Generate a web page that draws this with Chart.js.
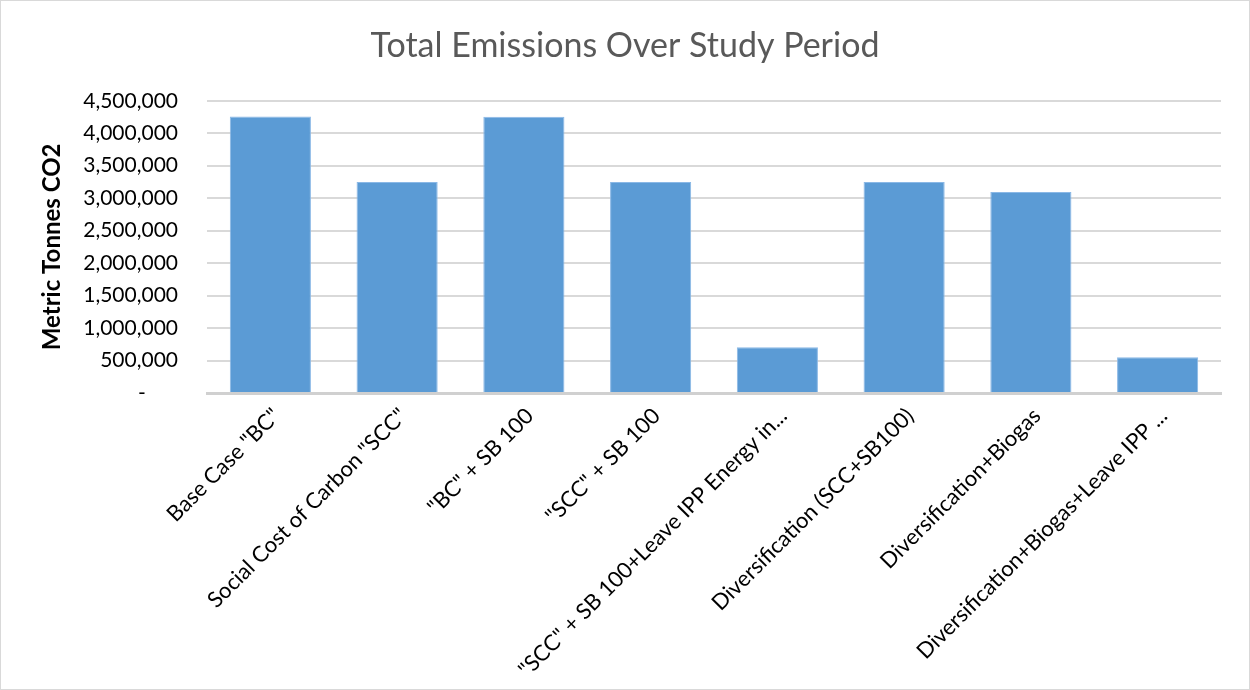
<!DOCTYPE html>
<html>
<head>
<meta charset="utf-8">
<script src="https://cdn.jsdelivr.net/npm/chart.js@4/dist/chart.umd.min.js"></script>
<style>
  html, body { margin: 0; padding: 0; background: #fff; }
  #wrap { width: 1250px; height: 690px; position: relative; }
</style>
</head>
<body>
<div id="wrap"><canvas id="c" width="1250" height="690"></canvas></div>
<script>
const categories = [
  'Base Case "BC"',
  'Social Cost of Carbon "SCC"',
  '"BC" + SB 100',
  '"SCC" + SB 100',
  '"SCC" + SB 100+Leave IPP Energy in...',
  'Diversification (SCC+SB100)',
  'Diversification+Biogas',
  'Diversification+Biogas+Leave IPP ...'
];
const emissions = [4260000, 3250000, 4255000, 3250000, 705000, 3250000, 3095000, 550000];
const yTicks = [0, 500000, 1000000, 1500000, 2000000, 2500000, 3000000, 3500000, 4000000, 4500000];

const FONT = 'Lato, "Open Sans", sans-serif';

const borderPlugin = {
  id: 'outerBorder',
  beforeDraw(chart) {
    const ctx = chart.ctx;
    ctx.save();
    ctx.fillStyle = '#fff';
    ctx.fillRect(0, 0, chart.width, chart.height);
    ctx.strokeStyle = '#d9d9d9';
    ctx.lineWidth = 1;
    ctx.strokeRect(0.5, 0.5, chart.width - 1, chart.height - 1);
    ctx.restore();
  }
};

new Chart(document.getElementById('c'), {
  type: 'bar',
  data: {
    labels: categories,
    datasets: [{
      label: 'Total Emissions',
      data: emissions,
      backgroundColor: '#5b9bd5',
      borderColor: '#8ab8e6',
      borderWidth: 1,
      barPercentage: 0.64,
      categoryPercentage: 1.0
    }]
  },
  options: {
    responsive: false,
    animation: false,
    layout: { padding: { top: 0, right: 0, bottom: 0, left: 0 } },
    plugins: {
      legend: { display: false },
      tooltip: { enabled: false },
      title: {
        display: true,
        text: 'Total Emissions Over Study Period',
        color: '#595959',
        font: { family: FONT, size: 34, weight: 'normal' },
        padding: { top: 26, bottom: 34 }
      }
    },
    scales: {
      x: {
        grid: { display: false, drawTicks: false },
        border: { display: true, color: '#d0d0d0', width: 3 },
        ticks: {
          autoSkip: false,
          maxRotation: 45,
          minRotation: 45,
          padding: 10,
          labelOffset: 6,
          color: '#000',
          font: { family: FONT, size: 22 }
        },
        afterFit(scale) { scale.height = 297; }
      },
      y: {
        min: 0,
        max: 4500000,
        afterBuildTicks(scale) { scale.ticks = yTicks.map(v => ({ value: v })); },
        grid: { color: '#d9d9d9', lineWidth: 2, drawTicks: false },
        border: { display: false },
        ticks: {
          padding: 29,
          color: '#000',
          font: { family: FONT, size: 21 },
          callback: (v) => v === 0 ? '-      ' : v.toLocaleString('en-US')
        },
        title: {
          display: true,
          text: 'Metric Tonnes CO2',
          color: '#000',
          font: { family: FONT, size: 24, weight: 'bold' },
          padding: { top: 38, bottom: 0 }
        },
        afterFit(scale) { scale.width = 207; }
      },
      yRight: {
        position: 'right',
        display: true,
        min: 0,
        max: 4500000,
        grid: { display: false, drawTicks: false },
        border: { display: false },
        ticks: { display: false },
        afterFit(scale) { scale.width = 29; }
      }
    }
  },
  plugins: [borderPlugin]
});
</script>
</body>
</html>
